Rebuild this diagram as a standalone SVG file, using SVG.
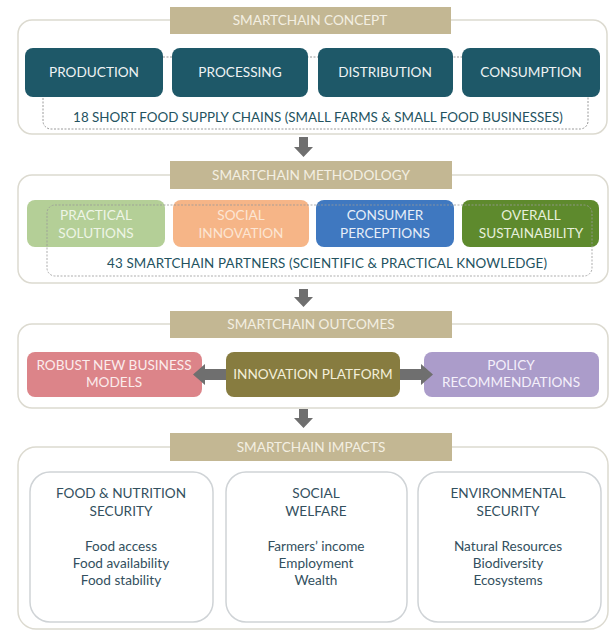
<svg xmlns="http://www.w3.org/2000/svg" width="616" height="632" viewBox="0 0 616 632">
<defs>
<style>
text{font-family:Lato,"Open Sans","Liberation Sans",sans-serif;text-anchor:middle;}
.outer{fill:#ffffff;stroke:#dcdad0;stroke-width:1.5;}
.hdr{fill:#c3b793;}
.hdrt{fill:#f3efe2;font-size:13.6px;}
.teal{fill:#1e5868;}
.wt{fill:#eef3f4;font-size:13.6px;}
.dash{fill:none;stroke:#9a9a9a;stroke-width:1;stroke-dasharray:2 1.5;}
.foot{fill:#24535f;font-size:13.4px;}
.arr{fill:#6f6f6f;}
.inner{fill:#ffffff;stroke:#cfd3d6;stroke-width:1.5;}
.it{fill:#33505e;font-size:13.6px;}
</style>
</defs>
<rect width="616" height="632" fill="#ffffff"/>

<!-- Section 1 -->
<g id="concept">
<rect class="outer" x="18" y="20" width="589" height="114" rx="14"/>
<rect class="dash" x="43" y="57" width="545" height="72" rx="8"/>
<rect class="hdr" x="170" y="7" width="281" height="27"/>
<text class="hdrt" x="310" y="25">SMARTCHAIN CONCEPT</text>
<text class="foot" x="318" y="122">18 SHORT FOOD SUPPLY CHAINS (SMALL FARMS &amp; SMALL FOOD BUSINESSES)</text>
</g>
<g id="production"><rect class="teal" x="25" y="48" width="138" height="49" rx="8"/><text class="wt" x="94" y="77">PRODUCTION</text></g>
<g id="processing"><rect class="teal" x="172" y="48" width="136" height="49" rx="8"/><text class="wt" x="240" y="77">PROCESSING</text></g>
<g id="distribution"><rect class="teal" x="318" y="48" width="135" height="49" rx="8"/><text class="wt" x="385" y="77">DISTRIBUTION</text></g>
<g id="consumption"><rect class="teal" x="462" y="48" width="138" height="49" rx="8"/><text class="wt" x="531" y="77">CONSUMPTION</text></g>

<!-- Section 2 -->
<g id="methodology">
<rect class="outer" x="18" y="175" width="590" height="108" rx="14"/>
<rect class="hdr" x="170" y="161" width="282" height="28"/>
<text class="hdrt" x="311" y="180">SMARTCHAIN METHODOLOGY</text>
<text class="foot" x="327" y="268" textLength="440" lengthAdjust="spacing">43 SMARTCHAIN PARTNERS (SCIENTIFIC &amp; PRACTICAL KNOWLEDGE)</text>
</g>
<g id="practical"><rect x="27" y="200" width="138" height="47" rx="8" fill="#b4cf97"/><text class="wt" style="fill:#eef5e6" x="96" y="220">PRACTICAL</text><text class="wt" style="fill:#eef5e6" x="96" y="238">SOLUTIONS</text></g>
<g id="social"><rect x="173" y="200" width="136" height="47" rx="8" fill="#f6b587"/><text class="wt" style="fill:#fce6d4" x="241" y="220">SOCIAL</text><text class="wt" style="fill:#fce6d4" x="241" y="238">INNOVATION</text></g>
<g id="consumer"><rect x="316" y="200" width="138" height="47" rx="8" fill="#3f78c0"/><text class="wt" style="fill:#e6eef8" x="385" y="220">CONSUMER</text><text class="wt" style="fill:#e6eef8" x="385" y="238">PERCEPTIONS</text></g>
<g id="overall"><rect x="462" y="200" width="137" height="47" rx="8" fill="#5e8a2d"/><text class="wt" style="fill:#e6efdb" x="531" y="220">OVERALL</text><text class="wt" style="fill:#e6efdb" x="531" y="238">SUSTAINABILITY</text></g>
<rect class="dash" x="47" y="205" width="545" height="71" rx="8" opacity="0.8"/>

<!-- Section 3 -->
<g id="outcomes">
<rect class="outer" x="18" y="324" width="590" height="84" rx="14"/>
<rect class="hdr" x="170" y="311" width="282" height="27"/>
<text class="hdrt" x="311" y="329">SMARTCHAIN OUTCOMES</text>
</g>
<g id="robust"><rect x="27" y="352" width="175" height="45" rx="8" fill="#dc8489"/><text class="wt" style="fill:#fbecec" x="114" y="370">ROBUST NEW BUSINESS</text><text class="wt" style="fill:#fbecec" x="114" y="387">MODELS</text></g>
<g id="policy"><rect x="424" y="352" width="175" height="45" rx="8" fill="#ab9cca"/><text class="wt" style="fill:#f4f0fa" x="511" y="370">POLICY</text><text class="wt" style="fill:#f4f0fa" x="511" y="387">RECOMMENDATIONS</text></g>

<g id="connectors">
<polygon class="arr" points="299,137 308,137 308,147 313,147 303.5,157 294,147 299,147"/>
<polygon class="arr" points="299,289 308,289 308,297 313,297 303.5,307 294,297 299,297"/>
<polygon class="arr" points="299,409 308,409 308,418 313,418 303.5,428 294,418 299,418"/>
<polygon class="arr" points="232,369 205,369 205,364 193,374.5 205,385 205,380 232,380"/>
<polygon class="arr" points="396,369 421,369 421,364 433,374.5 421,385 421,380 396,380"/>
<polygon class="arr" points="198,546 208,538 208,542 228,542 228,538 238,546 228,554 228,550 208,550 208,554"/>
<polygon class="arr" points="394,546 404,538 404,542 423,542 423,538 433,546 423,554 423,550 404,550 404,554"/>
</g>

<g id="innovation"><rect x="226" y="352" width="174" height="45" rx="8" fill="#877c40"/><text class="wt" style="fill:#f3efd9" x="313" y="379">INNOVATION PLATFORM</text></g>

<!-- Section 4 -->
<g id="impacts">
<rect class="outer" x="18" y="447" width="590" height="182" rx="18"/>
<rect class="hdr" x="170" y="433" width="282" height="28"/>
<text class="hdrt" x="311" y="452">SMARTCHAIN IMPACTS</text>
</g>
<g id="food"><rect class="inner" x="30" y="472" width="183" height="150" rx="20"/>
<text class="it" x="121" y="498">FOOD &amp; NUTRITION</text><text class="it" x="121" y="516">SECURITY</text>
<text class="it" x="121" y="551">Food access</text><text class="it" x="121" y="568">Food availability</text><text class="it" x="121" y="585">Food stability</text></g>
<g id="socialwelfare"><rect class="inner" x="226" y="472" width="181" height="150" rx="20"/>
<text class="it" x="316" y="498">SOCIAL</text><text class="it" x="316" y="516">WELFARE</text>
<text class="it" x="316" y="551">Farmers’ income</text><text class="it" x="316" y="568">Employment</text><text class="it" x="316" y="585">Wealth</text></g>
<g id="environmental"><rect class="inner" x="418" y="472" width="183" height="150" rx="20"/>
<text class="it" x="508" y="498">ENVIRONMENTAL</text><text class="it" x="508" y="516">SECURITY</text>
<text class="it" x="508" y="551">Natural Resources</text><text class="it" x="508" y="568">Biodiversity</text><text class="it" x="508" y="585">Ecosystems</text></g>
</svg>
